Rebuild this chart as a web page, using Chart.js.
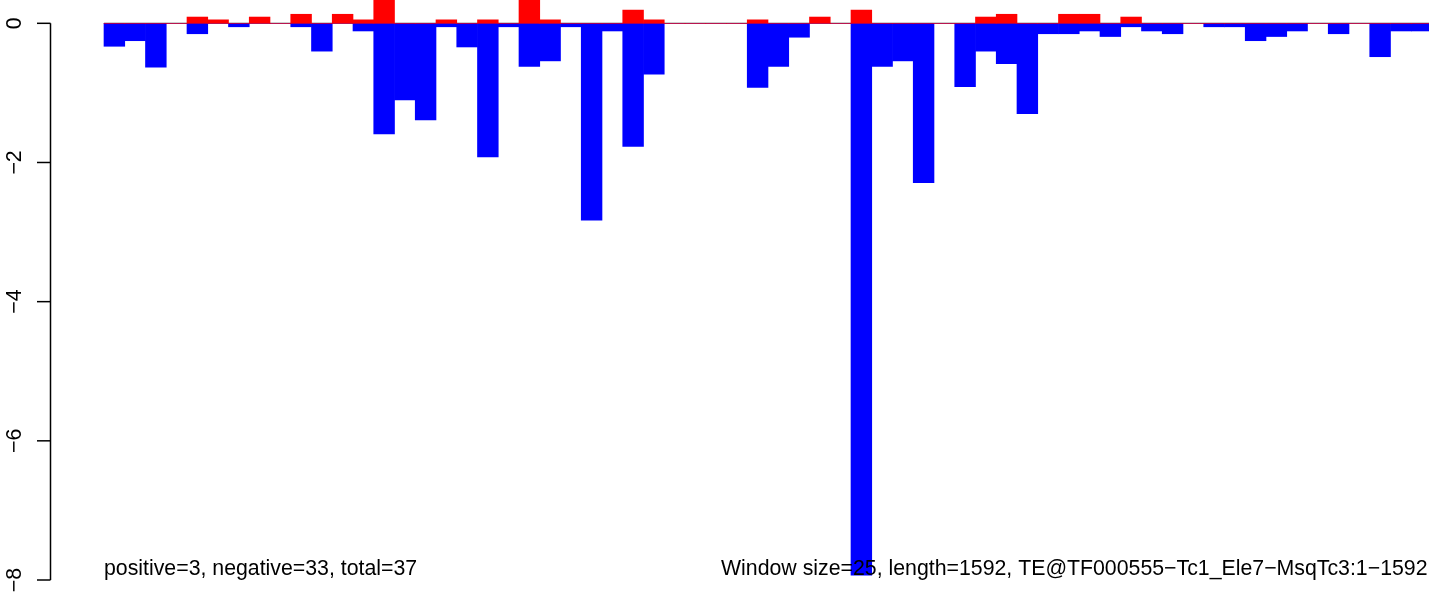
<!DOCTYPE html>
<html>
<head>
<meta charset="utf-8">
<script src="https://cdn.jsdelivr.net/npm/chart.js@4.4.1/dist/chart.umd.min.js"></script>
<style>
  html, body { margin: 0; padding: 0; background: #ffffff; overflow: hidden; }
  #wrap { width: 1429px; height: 592px; position: relative; }
  canvas { display: block; }
</style>
</head>
<body>
<div id="wrap"><canvas id="c" width="1429" height="592"></canvas></div>
<script>
// ---- data ----
const windowSize = 25;
const seqLength = 1592;
const windowStarts = [0,25,50,75,100,125,150,175,200,225,250,275,300,325,350,375,
  400,425,450,475,500,525,550,575,600,625,650,675,700,725,750,775,
  800,825,850,875,900,925,950,975,1000,1025,1050,1075,1100,1125,1150,1175,
  1200,1225,1250,1275,1300,1325,1350,1375,1400,1425,1450,1475,1500,1525,1550,1575];
const positiveValues = [0,0,0,0,0.09,0.05,0,0.09,0,0.13,0,0.13,0.05,0.42,0,0,
  0.05,0,0.05,0,0.42,0.05,0,0,0,0.19,0.05,0,0,0,0,0.05,
  0,0,0.09,0,0.19,0,0,0,0,0,0.09,0.13,0,0,0.13,0.13,
  0,0.09,0,0,0,0,0,0,0,0,0,0,0,0,0,0];
const negativeValues = [-0.33,-0.25,-0.63,0,-0.15,0,-0.05,0,0,-0.05,-0.40,0,-0.11,-1.59,-1.10,-1.39,
  -0.05,-0.34,-1.92,-0.05,-0.62,-0.54,-0.05,-2.83,-0.11,-1.77,-0.73,0,0,0,0,-0.92,
  -0.62,-0.20,0,0,-7.93,-0.62,-0.54,-2.29,0,-0.91,-0.40,-0.58,-1.30,-0.15,-0.15,-0.11,
  -0.19,-0.05,-0.11,-0.15,0,-0.05,-0.05,-0.25,-0.19,-0.11,0,-0.15,0,-0.48,-0.11,-0.11];
const yTickValues = [0, -2, -4, -6, -8];
const yTickLabels = ["0", "\u22122", "\u22124", "\u22126", "\u22128"];
const leftNote = "positive=3, negative=33, total=37";
const rightNote = "Window size=25, length=1592, TE@TF000555\u2212Tc1_Ele7\u2212MsqTc3:1\u22121592";

const FONT = '21.3px "Liberation Sans", Arial, Helvetica, sans-serif';

function pts(vals) {
  return vals.map((v, i) => ({ x: windowStarts[i] + windowSize / 2, y: v }));
}

const bgPlugin = {
  id: 'bg',
  beforeDraw(chart) {
    const ctx = chart.ctx;
    ctx.save();
    ctx.fillStyle = '#ffffff';
    ctx.fillRect(0, 0, chart.width, chart.height);
    ctx.restore();
  }
};

const decorPlugin = {
  id: 'decor',
  beforeDatasetsDraw(chart) {
    const ctx = chart.ctx;
    const xs = chart.scales.x, ys = chart.scales.y;
    ctx.save();
    // zero line
    const y0 = ys.getPixelForValue(0);
    ctx.strokeStyle = '#a0a0a0';
    ctx.lineWidth = 1.5;
    ctx.beginPath();
    ctx.moveTo(xs.getPixelForValue(0), y0);
    ctx.lineTo(chart.width, y0);
    ctx.stroke();
    ctx.restore();
  },
  afterDraw(chart) {
    const ctx = chart.ctx;
    const xs = chart.scales.x, ys = chart.scales.y;
    const ax = 50.5;
    ctx.save();
    // notes (drawn over the bars)
    ctx.fillStyle = '#000000';
    ctx.font = FONT;
    ctx.textBaseline = 'alphabetic';
    ctx.textAlign = 'left';
    ctx.fillText(leftNote, xs.getPixelForValue(0), 575);
    ctx.fillText(rightNote, 721, 575);
    // y axis
    ctx.strokeStyle = '#000000';
    ctx.lineWidth = 1.5;
    ctx.beginPath();
    ctx.moveTo(ax, ys.getPixelForValue(yTickValues[0]));
    ctx.lineTo(ax, ys.getPixelForValue(yTickValues[yTickValues.length - 1]));
    ctx.stroke();
    ctx.textAlign = 'center';
    yTickValues.forEach((v, i) => {
      const py = ys.getPixelForValue(v);
      ctx.beginPath();
      ctx.moveTo(37, py);
      ctx.lineTo(ax, py);
      ctx.stroke();
      ctx.save();
      ctx.translate(21, py);
      ctx.rotate(-Math.PI / 2);
      ctx.fillText(yTickLabels[i], 0, 0);
      ctx.restore();
    });
    ctx.restore();
  }
};

new Chart(document.getElementById('c'), {
  type: 'bar',
  data: {
    datasets: [
      { label: 'positive', data: pts(positiveValues), backgroundColor: '#ff0000', borderWidth: 0 },
      { label: 'negative', data: pts(negativeValues), backgroundColor: '#0000ff', borderWidth: 0 }
    ]
  },
  options: {
    responsive: false,
    devicePixelRatio: 1,
    animation: false,
    layout: { padding: { left: 50, right: 0, top: 0, bottom: 12 } },
    datasets: { bar: { grouped: false, barPercentage: 1.0, categoryPercentage: 1.0 } },
    plugins: { legend: { display: false }, tooltip: { enabled: false }, title: { display: false } },
    scales: {
      x: { type: 'linear', min: -65.06, max: 1596.4, offset: false, display: false },
      y: { type: 'linear', min: -8, max: 0.335, display: false }
    }
  },
  plugins: [bgPlugin, decorPlugin]
});
</script>
</body>
</html>
